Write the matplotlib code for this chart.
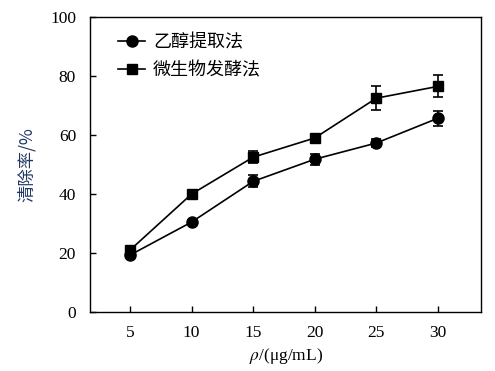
import numpy as np
import matplotlib.pyplot as plt

conc = [5, 10, 15, 20, 25, 30]
ethanol = [19.3, 30.5, 44.3, 51.8, 57.3, 65.7]
ethanol_err = [0.8, 0.8, 2.0, 1.8, 1.2, 2.6]
ferment = [21.0, 40.0, 52.5, 59.0, 72.5, 76.5]
ferment_err = [0.8, 0.8, 2.0, 1.2, 4.0, 3.7]
yticks = [0, 20, 40, 60, 80, 100]

plt.rcParams['font.family'] = ['Liberation Serif', 'Noto Sans CJK SC']
plt.rcParams['mathtext.fontset'] = 'stix'

fig = plt.figure(figsize=(4.95, 3.71), dpi=100)
ax = fig.add_axes([0.1818, 0.159, 0.79, 0.795])

# error bars first, then lines + markers on top (these carry the legend labels)
ax.errorbar(conc, ethanol, yerr=ethanol_err, fmt='none', ecolor='black',
            capsize=3.5, elinewidth=1.2, capthick=1.2)
ax.errorbar(conc, ferment, yerr=ferment_err, fmt='none', ecolor='black',
            capsize=3.5, elinewidth=1.2, capthick=1.2)
ax.plot(conc, ethanol, color='black', marker='o', markersize=8, linewidth=1.2, label='乙醇提取法')
ax.plot(conc, ferment, color='black', marker='s', markersize=7.5, linewidth=1.2, label='微生物发酵法')

ax.set_xlim(1.75, 33.5)
ax.set_ylim(0, 100)
ax.set_xticks(conc)
ax.set_yticks(yticks)
ax.tick_params(direction='in', labelsize=12.5, length=4, width=1)
ax.tick_params(axis='x', pad=9)
ax.tick_params(axis='y', pad=10)
for s in ax.spines.values():
    s.set_linewidth(1)

ax.set_xlabel(r'$\rho$/(μg/mL)', fontsize=12.5, labelpad=4)
ax.set_ylabel('清除率/%', fontsize=12.5, color='#1f3864', labelpad=10,
              family=['Noto Sans CJK SC', 'Liberation Serif'])

ax.legend(loc='upper left', bbox_to_anchor=(0.03, 1.0), frameon=False,
          handlelength=1.5, handletextpad=0.45, labelspacing=0.55, borderaxespad=0.5,
          prop={'family': ['Noto Sans CJK SC'], 'size': 13})

fig.savefig('out.png', dpi=100)
